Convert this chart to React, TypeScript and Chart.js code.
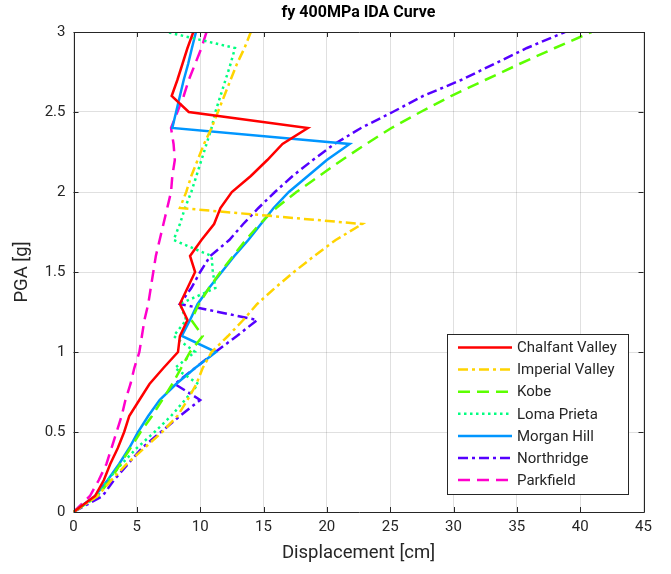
import React, { useEffect, useRef } from "react";
import { Chart, registerables } from "chart.js";

Chart.register(...registerables);

const pga = [0, 0.1, 0.2, 0.3, 0.4, 0.5, 0.6, 0.7, 0.8, 0.9, 1.0, 1.1, 1.2, 1.3, 1.4, 1.5, 1.6, 1.7, 1.8, 1.9, 2.0, 2.1, 2.2, 2.3, 2.4, 2.5, 2.6, 2.7, 2.8, 2.9, 3.0];

const chalfantValley = [0, 1.7, 2.4, 2.9, 3.5, 4.0, 4.4, 5.2, 6.0, 7.1, 8.25, 8.4, 9.0, 8.4, 9.0, 9.6, 9.2, 10.1, 11.1, 11.6, 12.5, 14.0, 15.3, 16.5, 18.5, 9.1, 7.75, 8.2, 8.6, 9.0, 9.46];
const imperialValley = [0, 1.9, 3.0, 4.2, 5.6, 7.0, 8.2, 9.0, 9.7, 10.2, 10.9, 12.2, 13.4, 14.5, 15.9, 17.4, 19.0, 20.7, 22.8, 8.4, 8.9, 9.3, 9.8, 10.3, 10.9, 11.4, 11.9, 12.4, 12.9, 13.5, 14.0];
const kobe = [0, 1.9, 2.9, 3.7, 4.5, 5.3, 6.2, 7.0, 7.8, 8.5, 9.2, 10.2, 9.3, 9.9, 10.7, 11.6, 12.6, 13.6, 14.7, 16.0, 17.6, 19.4, 21.2, 23.1, 25.1, 27.4, 29.8, 32.5, 35.2, 38.0, 40.9];
const lomaPrieta = [0, 1.9, 2.7, 3.8, 5.0, 6.4, 7.7, 8.8, 9.85, 8.0, 9.6, 7.9, 8.9, 8.4, 11.2, 11.0, 10.9, 7.9, 8.4, 8.8, 9.3, 9.7, 10.1, 10.5, 10.9, 11.2, 11.6, 12.0, 12.4, 12.75, 7.35];
const morganHill = [0, 1.7, 2.7, 3.6, 4.4, 5.1, 5.9, 6.8, 8.1, 9.6, 11.25, 8.55, 9.2, 9.8, 10.7, 11.7, 12.7, 13.8, 14.8, 15.8, 17.0, 18.5, 20.0, 21.8, 7.8, 8.1, 8.4, 8.7, 9.05, 9.35, 9.67];
const northridge = [0, 2.3, 3.2, 4.3, 5.4, 6.9, 8.4, 10.0, 8.0, 9.6, 11.2, 12.9, 14.5, 8.4, 9.3, 10.0, 10.8, 12.3, 13.4, 14.6, 15.9, 17.3, 18.9, 20.6, 22.7, 25.2, 27.6, 30.6, 33.2, 35.8, 38.8];
const parkfield = [0, 1.3, 2.0, 2.6, 3.0, 3.4, 3.8, 4.1, 4.5, 4.8, 5.2, 5.4, 5.6, 5.9, 6.1, 6.3, 6.5, 6.8, 7.1, 7.4, 7.7, 7.8, 8.0, 7.9, 7.7, 8.2, 8.7, 9.1, 9.6, 10.1, 10.5];

const seriesNames = ["Chalfant Valley", "Imperial Valley", "Kobe", "Loma Prieta", "Morgan Hill", "Northridge", "Parkfield"];
const seriesValues = [chalfantValley, imperialValley, kobe, lomaPrieta, morganHill, northridge, parkfield];
const seriesColors = ["#FF0000", "#FFD400", "#5CFF00", "#00FF80", "#0096FF", "#5500FF", "#FF00CC"];
const seriesDashes: number[][] = [[], [10, 4, 3, 4], [12, 7], [2.5, 3.5], [], [10, 4, 3, 4], [12, 7]];

const xTicksMax = 45;
const yTicksMax = 3;
const titleText = "fy 400MPa IDA Curve";
const xLabel = "Displacement [cm]";
const yLabel = "PGA [g]";

const FONT = "Roboto, 'Liberation Sans', Arial, sans-serif";
const AXIS_COLOR = "#262626";
const LINE_W = 2.5;

const framePlugin = {
  id: "matlabFrame",
  afterDatasetsDraw(chart: any) {
    const { ctx, chartArea, scales } = chart;
    const { left, right, top, bottom } = chartArea;
    ctx.save();
    ctx.strokeStyle = AXIS_COLOR;
    ctx.lineWidth = 1;
    ctx.beginPath();
    ctx.rect(Math.round(left) + 0.5, Math.round(top) + 0.5, Math.round(right - left), Math.round(bottom - top));
    ctx.stroke();
    const tl = 5;
    ctx.beginPath();
    scales.x.ticks.forEach((t: any) => {
      const px = Math.round(scales.x.getPixelForValue(t.value)) + 0.5;
      ctx.moveTo(px, bottom);
      ctx.lineTo(px, bottom - tl);
      ctx.moveTo(px, top);
      ctx.lineTo(px, top + tl);
    });
    scales.y.ticks.forEach((t: any) => {
      const py = Math.round(scales.y.getPixelForValue(t.value)) + 0.5;
      ctx.moveTo(left, py);
      ctx.lineTo(left + tl, py);
      ctx.moveTo(right, py);
      ctx.lineTo(right - tl, py);
    });
    ctx.stroke();
    ctx.restore();
  },
  afterDraw(chart: any) {
    const { ctx, chartArea } = chart;
    ctx.save();
    ctx.fillStyle = "#000";
    ctx.font = `bold 16px ${FONT}`;
    ctx.textAlign = "center";
    ctx.textBaseline = "middle";
    ctx.fillText(titleText, (chartArea.left + chartArea.right) / 2, 13);

    const bx = 447.5, by = 334.5, bw = 181, bh = 160;
    ctx.fillStyle = "#fff";
    ctx.fillRect(bx, by, bw, bh);
    ctx.strokeStyle = AXIS_COLOR;
    ctx.lineWidth = 1;
    ctx.strokeRect(bx, by, bw, bh);
    ctx.font = `15px ${FONT}`;
    ctx.textAlign = "left";
    ctx.textBaseline = "middle";
    seriesNames.forEach((name, i) => {
      const y = 347.5 + i * 22.1;
      ctx.save();
      ctx.strokeStyle = seriesColors[i];
      ctx.lineWidth = LINE_W;
      ctx.setLineDash(seriesDashes[i]);
      ctx.beginPath();
      ctx.moveTo(458, y);
      ctx.lineTo(512, y);
      ctx.stroke();
      ctx.restore();
      ctx.fillStyle = AXIS_COLOR;
      ctx.fillText(name, 517, y + 1);
    });
    ctx.restore();
  },
};

export default function App() {
  const canvasRef = useRef<HTMLCanvasElement | null>(null);

  useEffect(() => {
    const canvas = canvasRef.current;
    if (!canvas) return;
    const datasets = seriesNames.map((name, i) => ({
      label: name,
      data: seriesValues[i].map((x, j) => ({ x, y: pga[j] })),
      borderColor: seriesColors[i],
      backgroundColor: seriesColors[i],
      borderWidth: LINE_W,
      borderDash: seriesDashes[i],
      showLine: true,
      pointRadius: 0,
      pointHoverRadius: 0,
      fill: false,
      tension: 0,
    }));

    const chart = new Chart(canvas, {
      type: "scatter",
      data: { datasets },
      plugins: [framePlugin],
      options: {
        animation: false,
        responsive: false,
        devicePixelRatio: 1,
        layout: { padding: { left: 0, right: 27.5, top: 32, bottom: 0 } },
        plugins: {
          legend: { display: false },
          title: { display: false },
          tooltip: { enabled: false },
        },
        scales: {
          x: {
            type: "linear",
            min: 0,
            max: xTicksMax,
            ticks: {
              stepSize: 5,
              color: AXIS_COLOR,
              font: { family: FONT, size: 15 },
              padding: 6,
              callback: (v: any) => String(v),
            },
            grid: { color: "rgba(0,0,0,0.12)", drawTicks: false, lineWidth: 1 },
            border: { display: false },
            title: {
              display: true,
              text: xLabel,
              color: AXIS_COLOR,
              font: { family: FONT, size: 18.5 },
              padding: { top: 0, bottom: 10 },
            },
            afterFit: (scale: any) => {
              scale.height = 62;
            },
          },
          y: {
            type: "linear",
            min: 0,
            max: yTicksMax,
            ticks: {
              stepSize: 0.5,
              color: AXIS_COLOR,
              font: { family: FONT, size: 15 },
              padding: 8,
              callback: (v: any) => String(v),
            },
            grid: { color: "rgba(0,0,0,0.12)", drawTicks: false, lineWidth: 1 },
            border: { display: false },
            title: {
              display: true,
              text: yLabel,
              color: AXIS_COLOR,
              font: { family: FONT, size: 18.5 },
              padding: { top: 11, bottom: 0 },
            },
            afterFit: (scale: any) => {
              scale.width = 73.5;
            },
          },
        },
      },
    });
    return () => chart.destroy();
  }, []);

  return (
    <div style={{ position: "absolute", left: 0, top: 0, width: 671, height: 574, background: "#fff" }}>
      <canvas ref={canvasRef} width={671} height={574} style={{ width: 671, height: 574, display: "block" }} />
    </div>
  );
}
